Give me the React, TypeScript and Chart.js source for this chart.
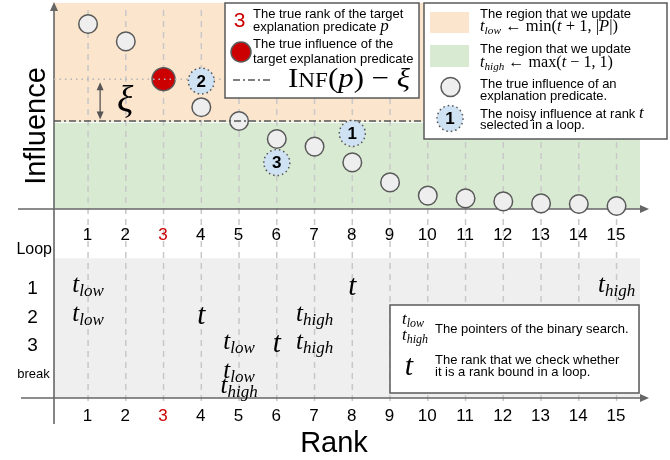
import React, { useEffect, useRef } from 'react';
import { Chart, registerables } from 'chart.js';

Chart.register(...registerables);

// ---------------- data ----------------
const RANKS = [1, 2, 3, 4, 5, 6, 7, 8, 9, 10, 11, 12, 13, 14, 15];
const RANK_TICKS = ['1', '2', '3', '4', '5', '6', '7', '8', '9', '10', '11', '12', '13', '14', '15'];
const TRUE_INFLUENCE = [9.25, 8.38, 6.49, 5.09, 4.4, 3.5, 3.12, 2.33, 1.33, 0.67, 0.53, 0.38, 0.28, 0.25, 0.15];
const TARGET_RANK = 3;
const XI = 2.09;
const NOISY_STEPS = ['1', '2', '3'];
const NOISY_RANKS = [8, 4, 6];
const NOISY_INFLUENCE = [3.78, 6.4, 2.32];
const LOOP_LABELS = ['1', '2', '3', 'break'];
const T_LOW = [1, 1, 5, 5];
const T_CHECK: (number | null)[] = [8, 4, 6, null];
const T_HIGH = [15, 7, 7, 5];

// ---------------- styles ----------------
const SANS = '"Liberation Sans", Arial, Helvetica, sans-serif';
const SERIF = '"Liberation Serif", "DejaVu Serif", "Times New Roman", serif';
const ORANGE = '#fce5cd';
const GREEN = '#d9ead3';
const BAND = '#efefef';
const BLUE = '#cfe2f3';
const RED = '#cc0000';
const POINT_FILL = '#eeeeee';
const EDGE = '#595959';
const AXIS = '#666666';
const GRID = '#c8c8c8';

type Seg = { t: string; f: string; dy?: number; c?: string };
const it = (px: number) => `italic ${px}px ${SERIF}`;
const rm = (px: number) => `${px}px ${SERIF}`;
const sans = (px: number, w = 'normal') => `${w} ${px}px ${SANS}`;

function segWidth(ctx: CanvasRenderingContext2D, segs: Seg[]) {
  let w = 0;
  for (const s of segs) {
    ctx.font = s.f;
    w += ctx.measureText(s.t).width;
  }
  return w;
}

function drawSegs(
  ctx: CanvasRenderingContext2D,
  segs: Seg[],
  x: number,
  y: number,
  align: 'left' | 'center' | 'right' = 'left',
  fit?: number
) {
  const w = segWidth(ctx, segs);
  const sx = fit ? fit / w : 1;
  const total = w * sx;
  const start = align === 'left' ? x : align === 'center' ? x - total / 2 : x - total;
  ctx.save();
  ctx.translate(start, y);
  ctx.scale(sx, 1);
  ctx.textAlign = 'left';
  ctx.textBaseline = 'alphabetic';
  let cx = 0;
  for (const s of segs) {
    ctx.font = s.f;
    ctx.fillStyle = s.c || '#000';
    ctx.fillText(s.t, cx, s.dy || 0);
    cx += ctx.measureText(s.t).width;
  }
  ctx.restore();
}

function text(ctx: CanvasRenderingContext2D, s: string, x: number, y: number, font: string, align: CanvasTextAlign = 'left', color = '#000', maxW?: number) {
  ctx.font = font;
  ctx.fillStyle = color;
  ctx.textAlign = align;
  ctx.textBaseline = 'alphabetic';
  if (maxW) ctx.fillText(s, x, y, maxW);
  else ctx.fillText(s, x, y);
}

function circle(ctx: CanvasRenderingContext2D, x: number, y: number, r: number, fill: string, stroke: string | null, dash?: number[]) {
  ctx.save();
  ctx.beginPath();
  ctx.arc(x, y, r, 0, Math.PI * 2);
  if (fill) {
    ctx.fillStyle = fill;
    ctx.fill();
  }
  if (stroke) {
    ctx.strokeStyle = stroke;
    ctx.lineWidth = 1.5;
    ctx.setLineDash(dash || []);
    ctx.stroke();
  }
  ctx.restore();
}

function head(ctx: CanvasRenderingContext2D, x: number, y: number, dx: number, dy: number, len = 9, half = 4) {
  ctx.beginPath();
  ctx.moveTo(x, y);
  ctx.lineTo(x - dx * len - dy * half, y - dy * len + dx * half);
  ctx.lineTo(x - dx * len + dy * half, y - dy * len - dx * half);
  ctx.closePath();
  ctx.fill();
}

function line(ctx: CanvasRenderingContext2D, x1: number, y1: number, x2: number, y2: number, color: string, w: number, dash: number[] = []) {
  ctx.save();
  ctx.strokeStyle = color;
  ctx.lineWidth = w;
  ctx.setLineDash(dash);
  ctx.beginPath();
  ctx.moveTo(x1, y1);
  ctx.lineTo(x2, y2);
  ctx.stroke();
  ctx.restore();
}

function box(ctx: CanvasRenderingContext2D, x: number, y: number, w: number, h: number) {
  ctx.save();
  ctx.fillStyle = '#ffffff';
  ctx.fillRect(x, y, w, h);
  ctx.strokeStyle = EDGE;
  ctx.lineWidth = 1.5;
  ctx.strokeRect(x, y, w, h);
  ctx.restore();
}

const pointer = (sub: string, tSize = 25, subSize = 17, dy = 4, c = '#000'): Seg[] => [
  { t: 't', f: it(tSize), c },
  { t: sub, f: it(subSize), dy, c },
];

// layout constants (decoration only)
const X_MIN = -1.3325;
const X_MAX = 16.416;
const Y_MIN = -12.55;
const Y_MAX = 10.45;
const L_MIN = -9.0;
const L_MAX = 7.028;
const AXIS_X = 54;
const REGION_RIGHT = 640;
const ARROW_TIP = 649;
const PANEL_TOP = 3;
const BAND_BOTTOM_ROW = 4.87;
const MID_TICK_BASE = 240;
const BOT_TICK_BASE = 421;

const diagramPlugin = {
  id: 'diagram',
  beforeDatasetsDraw(chart: any) {
    const ctx: CanvasRenderingContext2D = chart.ctx;
    const X = (v: number) => chart.scales.x.getPixelForValue(v);
    const Y = (v: number) => chart.scales.y.getPixelForValue(v);
    const L = (v: number) => chart.scales.loop.getPixelForValue(v);
    const thr = TRUE_INFLUENCE[TARGET_RANK - 1] - XI;
    const baseY = Y(0);
    const bandTop = L(0);
    const bandBot = L(BAND_BOTTOM_ROW);
    ctx.save();
    // regions
    ctx.fillStyle = ORANGE;
    ctx.fillRect(AXIS_X, PANEL_TOP, REGION_RIGHT - AXIS_X, Y(thr) - PANEL_TOP);
    ctx.fillStyle = GREEN;
    ctx.fillRect(AXIS_X, Y(thr), REGION_RIGHT - AXIS_X, baseY - Y(thr));
    ctx.fillStyle = '#ffffff';
    ctx.fillRect(AXIS_X, Y(thr) + 0.8, REGION_RIGHT - AXIS_X, 1);
    ctx.fillStyle = BAND;
    ctx.fillRect(AXIS_X, bandTop, REGION_RIGHT - AXIS_X, bandBot - bandTop);

    // vertical dashed grid lines
    for (const r of RANKS) line(ctx, X(r), 10, X(r), 406, GRID, 1.5, [6, 5]);

    // axes
    ctx.fillStyle = AXIS;
    line(ctx, AXIS_X, 424, AXIS_X, PANEL_TOP + 6, AXIS, 1.6);
    head(ctx, AXIS_X, PANEL_TOP - 1, 0, -1, 9, 4);
    line(ctx, 18, baseY, ARROW_TIP - 6, baseY, AXIS, 1.6);
    head(ctx, ARROW_TIP, baseY, 1, 0, 9, 4);
    line(ctx, 21, bandBot, ARROW_TIP - 6, bandBot, AXIS, 1.6);
    head(ctx, ARROW_TIP, bandBot, 1, 0, 9, 4);

    // tick labels
    RANKS.forEach((r, i) => {
      const col = r === TARGET_RANK ? RED : '#000';
      text(ctx, RANK_TICKS[i], X(r) - 0.5, MID_TICK_BASE, sans(17), 'center', col);
      text(ctx, RANK_TICKS[i], X(r) - 0.5, BOT_TICK_BASE, sans(17), 'center', col);
    });

    // axis titles
    ctx.save();
    ctx.translate(45, 126);
    ctx.rotate(-Math.PI / 2);
    text(ctx, 'Influence', 0, 0, sans(29), 'center');
    ctx.restore();
    text(ctx, 'Rank', 334, 452, sans(29), 'center');

    // loop labels
    text(ctx, 'Loop', 52, 254, sans(16), 'right');
    LOOP_LABELS.forEach((lab, i) => {
      const y = L(i + 1);
      if (lab === 'break') text(ctx, lab, 33.5, y + 5, sans(13), 'center');
      else text(ctx, lab, 32.5, y + 7, sans(19), 'center');
    });

    // pointers in each loop
    LOOP_LABELS.forEach((_, i) => {
      const y = L(i + 1) + 5;
      drawSegs(ctx, pointer('low'), X(T_LOW[i]), y, 'center');
      const hy = T_HIGH[i] === T_LOW[i] ? y + 15 : y;
      drawSegs(ctx, pointer('high'), X(T_HIGH[i]), hy, 'center');
      const tc = T_CHECK[i];
      if (tc !== null) drawSegs(ctx, [{ t: 't', f: it(29) }], X(tc), L(i + 1) + 8, 'center');
    });
    ctx.restore();
  },
  afterDatasetDraw(chart: any, args: any) {
    if (args.index !== 1) return;
    const ctx: CanvasRenderingContext2D = chart.ctx;
    const Y = (v: number) => chart.scales.y.getPixelForValue(v);
    const inf = TRUE_INFLUENCE[TARGET_RANK - 1];
    line(ctx, AXIS_X, Y(inf), 225, Y(inf), '#b5b5b5', 1.5, [1.5, 4]);
    line(ctx, AXIS_X, Y(inf - XI), REGION_RIGHT, Y(inf - XI), '#555555', 1.5, [7, 3, 2, 3]);
  },
  afterDatasetsDraw(chart: any) {
    const ctx: CanvasRenderingContext2D = chart.ctx;
    const X = (v: number) => chart.scales.x.getPixelForValue(v);
    const Y = (v: number) => chart.scales.y.getPixelForValue(v);
    const meta = chart.getDatasetMeta(0);
    meta.data.forEach((el: any, i: number) => {
      circle(ctx, el.x, el.y, 13, '', '#555555', [1.5, 3]);
      ctx.save();
      ctx.font = sans(17, 'bold');
      ctx.fillStyle = '#000';
      ctx.textAlign = 'center';
      ctx.textBaseline = 'middle';
      ctx.fillText(NOISY_STEPS[i], el.x, el.y + 1);
      ctx.restore();
    });
    // xi arrow
    const inf = TRUE_INFLUENCE[TARGET_RANK - 1];
    const y1 = Y(inf) + 3;
    const y2 = Y(inf - XI) - 1.5;
    const ax = X(1.32);
    ctx.save();
    ctx.fillStyle = '#555555';
    line(ctx, ax, y1 + 6, ax, y2 - 6, '#555555', 1.3);
    head(ctx, ax, y1, 0, -1, 8, 3.5);
    head(ctx, ax, y2, 0, 1, 8, 3.5);
    ctx.font = it(38);
    ctx.fillStyle = '#000';
    ctx.textAlign = 'center';
    ctx.textBaseline = 'middle';
    ctx.fillText('ξ', X(1.98), (y1 + y2) / 2 + 1);
    ctx.restore();
  },
  afterDraw(chart: any) {
    const ctx: CanvasRenderingContext2D = chart.ctx;
    ctx.save();
    // ---- legend A ----
    box(ctx, 225, 3, 194, 95);
    text(ctx, String(TARGET_RANK), 239.5, 26.7, sans(21), 'center', RED);
    text(ctx, 'The true rank of the target', 253, 17.6, sans(13), 'left', '#000', 156);
    drawSegs(ctx, [{ t: 'explanation predicate ', f: sans(13) }, { t: 'p', f: it(17) }], 253, 31);
    circle(ctx, 241, 52, 10, RED, EDGE);
    text(ctx, 'The true influence of the', 253, 47.6, sans(13), 'left', '#000', 145);
    text(ctx, 'target explanation predicate', 253, 62.6, sans(13), 'left', '#000', 162);
    line(ctx, 233, 80, 272, 80, '#555555', 1.5, [7, 3, 2, 3]);
    drawSegs(
      ctx,
      [
        { t: 'I', f: rm(28) },
        { t: 'NF', f: rm(21) },
        { t: '(', f: rm(28) },
        { t: 'p', f: it(28) },
        { t: ')', f: rm(28) },
        { t: ' − ', f: rm(28) },
        { t: 'ξ', f: it(28) },
      ],
      288,
      87,
      'left',
      122
    );

    // ---- legend B ----
    box(ctx, 424, 3, 243, 136);
    ctx.fillStyle = ORANGE;
    ctx.fillRect(430, 12, 39, 21);
    ctx.fillStyle = GREEN;
    ctx.fillRect(430, 45, 39, 22);
    text(ctx, 'The region that we update', 480, 17.6, sans(13), 'left', '#000', 154);
    drawSegs(
      ctx,
      [
        ...pointer('low', 16, 11, 3),
        { t: ' ← min(', f: rm(16) },
        { t: 't', f: it(16) },
        { t: ' + 1, |', f: rm(16) },
        { t: 'P', f: it(16) },
        { t: '|)', f: rm(16) },
      ],
      480,
      31,
      'left',
      138
    );
    text(ctx, 'The region that we update', 480, 52.6, sans(13), 'left', '#000', 154);
    drawSegs(
      ctx,
      [
        ...pointer('high', 16, 11, 3),
        { t: ' ← max(', f: rm(16) },
        { t: 't', f: it(16) },
        { t: ' − 1, 1)', f: rm(16) },
      ],
      480,
      67,
      'left',
      133
    );
    circle(ctx, 450.5, 87, 9.5, POINT_FILL, EDGE);
    text(ctx, 'The true influence of an', 480, 87.6, sans(13), 'left', '#000', 148);
    text(ctx, 'explanation predicate.', 480, 100, sans(13), 'left', '#000', 131);
    circle(ctx, 450, 118.5, 13, BLUE, '#555555', [1.5, 3]);
    ctx.font = sans(17, 'bold');
    ctx.fillStyle = '#000';
    ctx.textAlign = 'center';
    ctx.textBaseline = 'middle';
    ctx.fillText(NOISY_STEPS[0], 450, 119.5);
    drawSegs(ctx, [{ t: 'The noisy influence at rank ', f: sans(13) }, { t: 't', f: it(17) }], 480, 117.6);
    text(ctx, 'selected in a loop.', 480, 129.3, sans(13), 'left', '#000', 123);

    // ---- legend C ----
    box(ctx, 390, 305, 249, 88);
    drawSegs(ctx, pointer('low', 17, 12, 3), 402, 324);
    drawSegs(ctx, pointer('high', 17, 12, 3), 402, 340);
    text(ctx, 'The pointers of the binary search.', 435, 332.6, sans(13), 'left', '#000', 197);
    drawSegs(ctx, [{ t: 't', f: it(30) }], 409, 375, 'center');
    text(ctx, 'The rank that we check whether', 435, 364.3, sans(13), 'left', '#000', 188);
    text(ctx, 'it is a rank bound in a loop.', 435, 376, sans(13), 'left', '#000', 180);
    ctx.restore();
  },
};

export default function App() {
  const ref = useRef<HTMLCanvasElement>(null);
  useEffect(() => {
    document.body.style.margin = '0';
    const chart = new Chart(ref.current as HTMLCanvasElement, {
      type: 'scatter',
      data: {
        datasets: [
          {
            label: 'noisy',
            data: NOISY_RANKS.map((r, i) => ({ x: r, y: NOISY_INFLUENCE[i] })),
            pointRadius: 13,
            pointBackgroundColor: BLUE,
            pointBorderWidth: 0,
            borderWidth: 0,
            order: 0,
          } as any,
          {
            label: 'true',
            data: RANKS.map((r, i) => ({ x: r, y: TRUE_INFLUENCE[i] })),
            pointRadius: RANKS.map((r) => (r === TARGET_RANK ? 11.5 : 9.3)),
            pointBackgroundColor: RANKS.map((r) => (r === TARGET_RANK ? RED : POINT_FILL)),
            pointBorderColor: EDGE,
            pointBorderWidth: 1.5,
            order: 1,
          } as any,
        ],
      },
      options: {
        responsive: true,
        maintainAspectRatio: false,
        animation: false,
        events: [],
        layout: { padding: 0, autoPadding: false } as any,
        plugins: { legend: { display: false }, tooltip: { enabled: false } },
        scales: {
          x: { type: 'linear', display: false, min: X_MIN, max: X_MAX, bounds: 'data' } as any,
          y: { type: 'linear', display: false, min: Y_MIN, max: Y_MAX, bounds: 'data' } as any,
          loop: { type: 'linear', axis: 'y', position: 'left', display: false, reverse: true, min: L_MIN, max: L_MAX, bounds: 'data' } as any,
        },
      },
      plugins: [diagramPlugin],
    });
    return () => chart.destroy();
  }, []);
  return (
    <div style={{ width: 670, height: 460, position: 'relative' }}>
      <canvas ref={ref} />
    </div>
  );
}
